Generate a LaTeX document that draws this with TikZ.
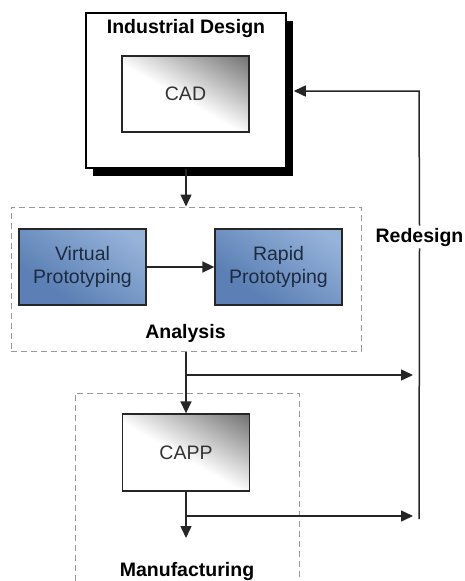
\documentclass[tikz,border=0pt]{standalone}
\usepackage{fontspec}
\setmainfont{Liberation Sans}
\usetikzlibrary{arrows.meta,shadows}
\definecolor{dashgray}{HTML}{9A9A9A}
\definecolor{bluelight}{HTML}{96B3DA}
\definecolor{bluedark}{HTML}{5C80B5}
\definecolor{bluetext}{HTML}{1C2B3F}
\definecolor{cadgray}{HTML}{727272}
\pgfdeclareverticalshading{cadaxis}{100bp}{color(0bp)=(white); color(47bp)=(white); color(84bp)=(cadgray); color(100bp)=(cadgray)}
\pgfdeclareverticalshading{blueaxis}{100bp}{color(0bp)=(bluedark); color(32bp)=(bluedark); color(78bp)=(bluelight); color(100bp)=(bluelight)}
\begin{document}
\begin{tikzpicture}[x=1pt,y=-1pt,
  every node/.style={font=\fontsize{19.5}{23}\selectfont},
  idbox/.style={draw=black,line width=1.5pt,fill=white,minimum width=200pt,minimum height=155pt,
    drop shadow={shadow xshift=7pt,shadow yshift=-8pt,fill=black,opacity=1}},
  graybox/.style={draw=black!85,line width=1.3pt,minimum width=127pt,minimum height=76pt,
    shade,shading=cadaxis,shading angle=-30,text=black!80},
  bluebox/.style={draw=black!85,line width=1.3pt,minimum width=127pt,minimum height=76pt,
    shade,shading=blueaxis,shading angle=-35,text=bluetext,align=center},
  dashbox/.style={draw=dashgray,line width=1pt,dash pattern=on 6pt off 4pt},
  bold/.style={font=\fontsize{19.5}{23}\selectfont\bfseries},
  conn/.style={draw=black!85,line width=1.5pt},
  arr/.style={conn,-{Triangle[length=12pt,width=11pt]}}
]
\useasboundingbox (0,0) rectangle (464,581);

% Industrial design
\node[idbox] (id) at (186,90.5) {};
\node[bold] (idt) at (186,29) {Industrial Design};
\node[graybox] (cad) at (185.5,94) {CAD};
\coordinate (idr) at ([xshift=7pt]id.east);

% Analysis
\node[dashbox,minimum width=350pt,minimum height=144pt] (ana) at (186,279) {};
\node[bluebox] (vp) at (82.5,267) {Virtual\\Prototyping};
\node[bluebox] (rp) at (278.5,267) {Rapid\\Prototyping};
\node[bold] (anat) at (185.5,333) {Analysis};

% Manufacturing
\draw[dashbox] (75,581) -- (75,393) -- (299,393) -- (299,581);
\node[graybox,minimum height=77pt] (capp) at (186,452.5) {CAPP};
\node[bold] (mant) at (187,571) {Manufacturing};

% Redesign
\node[bold,fill=white,inner sep=2pt] (rd) at (419.5,237) {Redesign};
\coordinate (r1) at (419,91);
\coordinate (r2) at (419,519);

% connectors
\draw[arr] (id.south) -- (ana.north);
\draw[arr] (vp.east) -- (rp.west);
\draw[arr] (ana.south) -- (capp.north);
\coordinate (b1) at (186,375);
\coordinate (b1e) at (413,375);
\draw[arr] (b1) -- (b1e);
\coordinate (m1) at (186,538);
\draw[arr] (capp.south) -- (m1);
\coordinate (b2) at (186,516);
\coordinate (b2e) at (413,516);
\draw[arr] (b2) -- (b2e);
\draw[conn] (r2) -- (rd.south);
\draw[arr] (rd.north) -- (r1) -- (idr |- r1);
\end{tikzpicture}
\end{document}
